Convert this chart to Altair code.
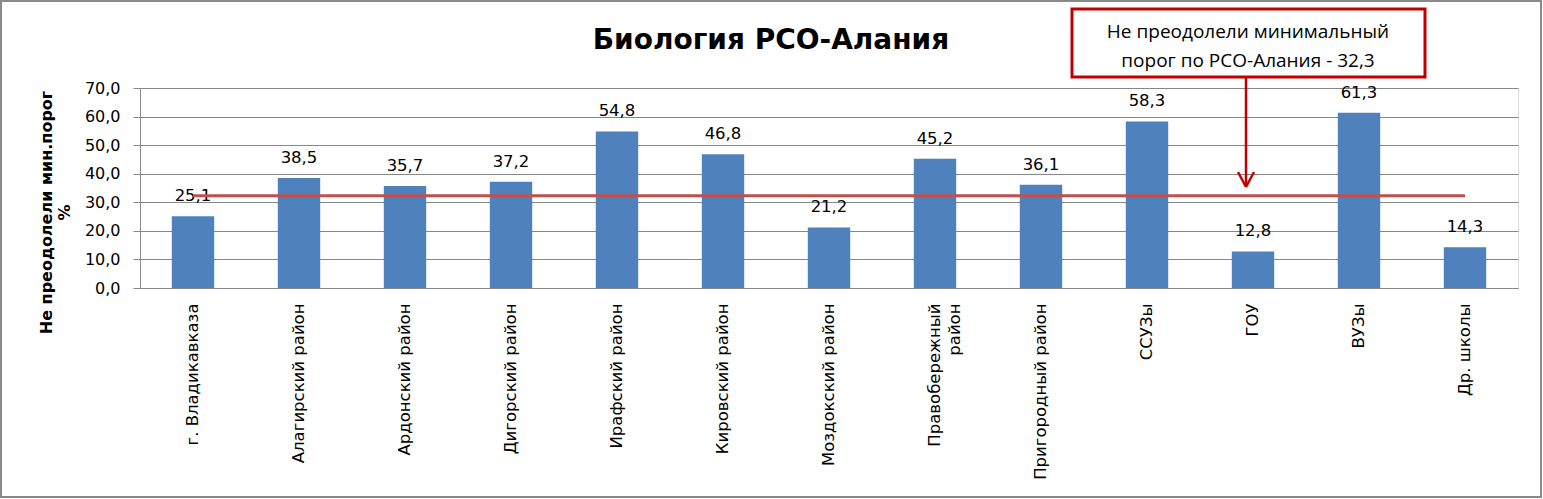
import altair as alt
import pandas as pd

categories = [
    "г. Владикавказа", "Алагирский район", "Ардонский район", "Дигорский район",
    "Ирафский район", "Кировский район", "Моздокский район", "Правобережный район",
    "Пригородный район", "ССУЗы", "ГОУ", "ВУЗы", "Др. школы",
]
values = [25.1, 38.5, 35.7, 37.2, 54.8, 46.8, 21.2, 45.2, 36.1, 58.3, 12.8, 61.3, 14.3]
threshold = 32.3
title_text = "Биология РСО-Алания"
y_title = ["Не преодолели мин.порог", "%"]
note_lines = ["Не преодолели минимальный", "порог по РСО-Алания - 32,3"]
y_ticks = [0, 10, 20, 30, 40, 50, 60, 70]
wrapped_label = "Правобережный район"

W, H = 1378, 200
PL, PT = 140, 88

bars_df = pd.DataFrame({"cat": categories, "v": values})
line_df = pd.DataFrame({"cat": [categories[0], categories[-1]], "v": [threshold, threshold]})
one = pd.DataFrame({"a": [0]})

FONT = "DejaVu Sans"
GRAY = "#878787"
PADSP = "\u00a0" * 8

x_label_expr = (
    "datum.label == '" + wrapped_label + "' ? "
    "['Правобережный', 'район" + PADSP + "'] : datum.label"
)

x_enc = alt.X(
    "cat:N", sort=None,
    scale=alt.Scale(domain=categories, paddingInner=0.6, paddingOuter=0.3),
    axis=alt.Axis(
        title=None, labelAngle=-90, labelAlign="right", labelBaseline="middle",
        labelPadding=15, labelFontSize=16.5, labelFont=FONT, labelColor="#000000",
        labelLimit=400, labelLineHeight=20, ticks=False, domainColor=GRAY, domainWidth=1,
        grid=False, labelOverlap=False, labelExpr=x_label_expr,
    ),
)
y_enc = alt.Y(
    "v:Q",
    scale=alt.Scale(domain=[0, 70], nice=False),
    axis=alt.Axis(
        values=y_ticks, tickCount=8, labelOverlap=False,
        labelExpr="replace(format(datum.value, '.1f'), '.', ',')",
        labelFont=FONT, labelFontSize=16, labelColor="#000000", labelPadding=13,
        tickSize=7, tickColor=GRAY, domainColor=GRAY, gridColor=GRAY, gridWidth=1,
        title=y_title, titleFont=FONT, titleFontSize=16, titleFontWeight="bold",
        titleColor="#000000", titleAngle=-90, titleAlign="center", titleBaseline="top",
        titleX=-102, titleY=124, titleLineHeight=18,
    ),
)

bars = alt.Chart(bars_df).mark_bar(color="#4F81BD").encode(x=x_enc, y=y_enc)

labels = alt.Chart(bars_df).transform_calculate(
    lab="replace(format(datum.v, '.1f'), '.', ',')"
).mark_text(font=FONT, fontSize=16.5, color="#000000", baseline="alphabetic", dy=-15).encode(
    x=alt.X("cat:N", sort=None), y="v:Q", text="lab:N"
)

red_line = alt.Chart(line_df).mark_line(color="#C0504D", strokeWidth=3).encode(
    x=alt.X("cat:N", sort=None), y="v:Q"
)

title = alt.Chart(one).mark_text(
    font=FONT, fontSize=28, fontWeight="bold", color="#000000", baseline="middle", align="center"
).encode(x=alt.value(771 - PL), y=alt.value(41 - PT), text=alt.value(title_text))

box = alt.Chart(one).mark_rect(fill="white", stroke="#C00000", strokeWidth=3).encode(
    x=alt.value(1072 - PL), x2=alt.value(1425 - PL), y=alt.value(9 - PT), y2=alt.value(77 - PT)
)
note = alt.Chart(one).mark_text(
    font="Open Sans", fontSize=19, color="#000000", align="center", baseline="alphabetic", lineHeight=29
).encode(x=alt.value(1248 - PL), y=alt.value(38 - PT), text=alt.value(note_lines))

shaft = alt.Chart(one).mark_rule(color="#C00000", strokeWidth=2.5).encode(
    x=alt.value(1246 - PL), y=alt.value(78 - PT), y2=alt.value(186 - PT)
)
wing1 = alt.Chart(one).mark_rule(color="#C00000", strokeWidth=2.5).encode(
    x=alt.value(1238 - PL), y=alt.value(172 - PT), x2=alt.value(1246 - PL), y2=alt.value(187 - PT)
)
wing2 = alt.Chart(one).mark_rule(color="#C00000", strokeWidth=2.5).encode(
    x=alt.value(1254 - PL), y=alt.value(172 - PT), x2=alt.value(1246 - PL), y2=alt.value(187 - PT)
)

border = alt.Chart(one).mark_rect(fill=None, fillOpacity=0, stroke="#8a8a8a", strokeWidth=2).encode(
    x=alt.value(1 - PL), x2=alt.value(1541 - PL), y=alt.value(1 - PT), y2=alt.value(497 - PT)
)

chart = alt.layer(
    border, bars, labels, red_line, title, box, note, shaft, wing1, wing2
).properties(
    width=W, height=H,
    autosize=alt.AutoSizeParams(type="none"),
    padding={"left": PL, "top": PT, "right": 1543 - PL - W, "bottom": 499 - PT - H},
).configure_view(stroke=None).configure(background="white")

chart.save("out.html", embed_options={"renderer": "svg", "actions": False})
